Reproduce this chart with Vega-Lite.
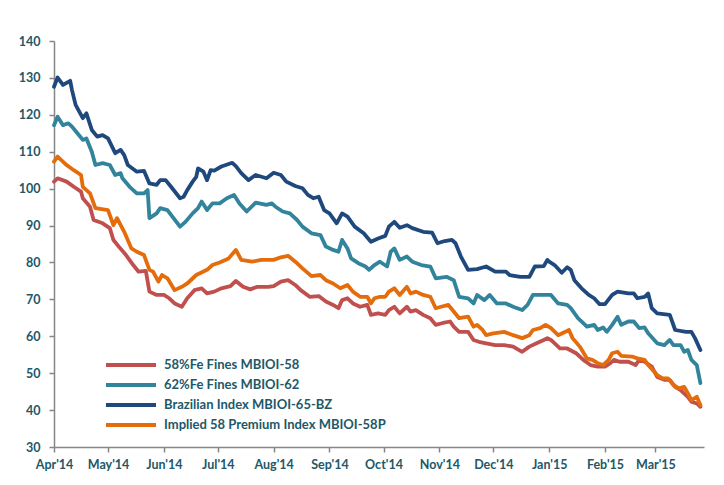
{
  "$schema": "https://vega.github.io/schema/vega-lite/v6.json",
  "width": 650,
  "height": 406,
  "autosize": "none",
  "padding": {"left": 54, "top": 41, "right": 20, "bottom": 38},
  "background": "white",
  "config": {"view": {"stroke": null}, "font": "Lato"},
  "data": {"values": [
{"s":"58","d":"2014-04-01","v":101.9},{"s":"58","d":"2014-04-03","v":102.8},{"s":"58","d":"2014-04-08","v":101.9},{"s":"58","d":"2014-04-12","v":100.5},{"s":"58","d":"2014-04-16","v":99.2},{"s":"58","d":"2014-04-17","v":97.4},{"s":"58","d":"2014-04-21","v":95.1},{"s":"58","d":"2014-04-23","v":91.5},{"s":"58","d":"2014-04-28","v":90.6},{"s":"58","d":"2014-05-02","v":89.3},{"s":"58","d":"2014-05-04","v":86.1},{"s":"58","d":"2014-05-07","v":84.3},{"s":"58","d":"2014-05-11","v":82.0},{"s":"58","d":"2014-05-15","v":79.3},{"s":"58","d":"2014-05-18","v":77.5},{"s":"58","d":"2014-05-22","v":77.7},{"s":"58","d":"2014-05-24","v":72.1},{"s":"58","d":"2014-05-28","v":71.2},{"s":"58","d":"2014-06-01","v":71.2},{"s":"58","d":"2014-06-04","v":70.3},{"s":"58","d":"2014-06-07","v":68.9},{"s":"58","d":"2014-06-11","v":68.0},{"s":"58","d":"2014-06-14","v":70.3},{"s":"58","d":"2014-06-18","v":72.5},{"s":"58","d":"2014-06-22","v":73.0},{"s":"58","d":"2014-06-25","v":71.6},{"s":"58","d":"2014-06-29","v":72.1},{"s":"58","d":"2014-07-03","v":73.0},{"s":"58","d":"2014-07-08","v":73.6},{"s":"58","d":"2014-07-11","v":75.0},{"s":"58","d":"2014-07-15","v":73.4},{"s":"58","d":"2014-07-19","v":72.7},{"s":"58","d":"2014-07-23","v":73.4},{"s":"58","d":"2014-07-29","v":73.4},{"s":"58","d":"2014-08-01","v":73.6},{"s":"58","d":"2014-08-05","v":74.8},{"s":"58","d":"2014-08-09","v":75.2},{"s":"58","d":"2014-08-13","v":73.9},{"s":"58","d":"2014-08-16","v":72.5},{"s":"58","d":"2014-08-21","v":70.7},{"s":"58","d":"2014-08-26","v":70.9},{"s":"58","d":"2014-08-30","v":69.4},{"s":"58","d":"2014-09-03","v":68.5},{"s":"58","d":"2014-09-06","v":67.6},{"s":"58","d":"2014-09-08","v":69.8},{"s":"58","d":"2014-09-11","v":70.3},{"s":"58","d":"2014-09-14","v":68.9},{"s":"58","d":"2014-09-18","v":68.0},{"s":"58","d":"2014-09-22","v":68.5},{"s":"58","d":"2014-09-24","v":65.8},{"s":"58","d":"2014-09-28","v":66.2},{"s":"58","d":"2014-10-02","v":65.8},{"s":"58","d":"2014-10-04","v":67.1},{"s":"58","d":"2014-10-07","v":68.0},{"s":"58","d":"2014-10-10","v":66.2},{"s":"58","d":"2014-10-14","v":68.0},{"s":"58","d":"2014-10-16","v":66.7},{"s":"58","d":"2014-10-19","v":67.1},{"s":"58","d":"2014-10-23","v":65.8},{"s":"58","d":"2014-10-27","v":64.9},{"s":"58","d":"2014-10-30","v":63.1},{"s":"58","d":"2014-11-03","v":63.6},{"s":"58","d":"2014-11-07","v":64.0},{"s":"58","d":"2014-11-09","v":62.6},{"s":"58","d":"2014-11-12","v":61.2},{"s":"58","d":"2014-11-17","v":61.2},{"s":"58","d":"2014-11-20","v":59.0},{"s":"58","d":"2014-11-23","v":58.5},{"s":"58","d":"2014-11-27","v":58.1},{"s":"58","d":"2014-12-02","v":57.6},{"s":"58","d":"2014-12-07","v":57.6},{"s":"58","d":"2014-12-12","v":57.2},{"s":"58","d":"2014-12-17","v":55.8},{"s":"58","d":"2014-12-21","v":57.2},{"s":"58","d":"2014-12-25","v":58.1},{"s":"58","d":"2014-12-29","v":59.0},{"s":"58","d":"2014-12-31","v":59.5},{"s":"58","d":"2015-01-02","v":59.0},{"s":"58","d":"2015-01-07","v":56.7},{"s":"58","d":"2015-01-11","v":56.7},{"s":"58","d":"2015-01-16","v":55.4},{"s":"58","d":"2015-01-20","v":53.6},{"s":"58","d":"2015-01-24","v":52.2},{"s":"58","d":"2015-01-28","v":51.8},{"s":"58","d":"2015-02-01","v":51.8},{"s":"58","d":"2015-02-04","v":52.7},{"s":"58","d":"2015-02-06","v":53.6},{"s":"58","d":"2015-02-09","v":53.1},{"s":"58","d":"2015-02-14","v":53.1},{"s":"58","d":"2015-02-18","v":52.2},{"s":"58","d":"2015-02-20","v":53.6},{"s":"58","d":"2015-02-23","v":53.1},{"s":"58","d":"2015-02-27","v":51.8},{"s":"58","d":"2015-03-02","v":49.0},{"s":"58","d":"2015-03-06","v":48.2},{"s":"58","d":"2015-03-09","v":48.2},{"s":"58","d":"2015-03-12","v":46.3},{"s":"58","d":"2015-03-15","v":45.4},{"s":"58","d":"2015-03-19","v":43.6},{"s":"58","d":"2015-03-21","v":42.3},{"s":"58","d":"2015-03-24","v":41.8},{"s":"58","d":"2015-03-26","v":40.9},
{"s":"62","d":"2014-04-01","v":117.2},{"s":"62","d":"2014-04-03","v":119.5},{"s":"62","d":"2014-04-06","v":117.2},{"s":"62","d":"2014-04-09","v":117.7},{"s":"62","d":"2014-04-11","v":116.8},{"s":"62","d":"2014-04-14","v":115.0},{"s":"62","d":"2014-04-17","v":113.2},{"s":"62","d":"2014-04-19","v":113.6},{"s":"62","d":"2014-04-22","v":110.0},{"s":"62","d":"2014-04-24","v":106.4},{"s":"62","d":"2014-04-28","v":106.9},{"s":"62","d":"2014-05-02","v":106.4},{"s":"62","d":"2014-05-05","v":103.7},{"s":"62","d":"2014-05-08","v":104.2},{"s":"62","d":"2014-05-09","v":102.8},{"s":"62","d":"2014-05-13","v":100.5},{"s":"62","d":"2014-05-17","v":98.7},{"s":"62","d":"2014-05-21","v":98.7},{"s":"62","d":"2014-05-23","v":99.6},{"s":"62","d":"2014-05-24","v":92.0},{"s":"62","d":"2014-05-28","v":93.3},{"s":"62","d":"2014-05-30","v":94.7},{"s":"62","d":"2014-06-03","v":94.2},{"s":"62","d":"2014-06-05","v":92.9},{"s":"62","d":"2014-06-10","v":89.7},{"s":"62","d":"2014-06-13","v":91.0},{"s":"62","d":"2014-06-17","v":93.3},{"s":"62","d":"2014-06-20","v":94.7},{"s":"62","d":"2014-06-22","v":96.5},{"s":"62","d":"2014-06-25","v":94.2},{"s":"62","d":"2014-06-28","v":96.0},{"s":"62","d":"2014-07-02","v":96.0},{"s":"62","d":"2014-07-06","v":97.4},{"s":"62","d":"2014-07-10","v":98.3},{"s":"62","d":"2014-07-13","v":96.0},{"s":"62","d":"2014-07-17","v":93.8},{"s":"62","d":"2014-07-22","v":96.2},{"s":"62","d":"2014-07-28","v":95.6},{"s":"62","d":"2014-07-31","v":96.0},{"s":"62","d":"2014-08-02","v":95.1},{"s":"62","d":"2014-08-06","v":93.8},{"s":"62","d":"2014-08-10","v":93.3},{"s":"62","d":"2014-08-14","v":91.5},{"s":"62","d":"2014-08-17","v":89.7},{"s":"62","d":"2014-08-22","v":87.9},{"s":"62","d":"2014-08-27","v":87.4},{"s":"62","d":"2014-08-30","v":84.3},{"s":"62","d":"2014-09-03","v":83.4},{"s":"62","d":"2014-09-06","v":82.9},{"s":"62","d":"2014-09-08","v":86.1},{"s":"62","d":"2014-09-11","v":83.8},{"s":"62","d":"2014-09-13","v":81.1},{"s":"62","d":"2014-09-17","v":79.8},{"s":"62","d":"2014-09-21","v":78.9},{"s":"62","d":"2014-09-23","v":78.0},{"s":"62","d":"2014-09-26","v":79.3},{"s":"62","d":"2014-09-29","v":80.2},{"s":"62","d":"2014-10-03","v":78.9},{"s":"62","d":"2014-10-05","v":82.9},{"s":"62","d":"2014-10-07","v":83.8},{"s":"62","d":"2014-10-10","v":80.7},{"s":"62","d":"2014-10-14","v":81.6},{"s":"62","d":"2014-10-17","v":80.2},{"s":"62","d":"2014-10-22","v":79.3},{"s":"62","d":"2014-10-27","v":78.9},{"s":"62","d":"2014-10-30","v":75.7},{"s":"62","d":"2014-11-05","v":76.1},{"s":"62","d":"2014-11-09","v":75.2},{"s":"62","d":"2014-11-12","v":70.7},{"s":"62","d":"2014-11-17","v":70.3},{"s":"62","d":"2014-11-20","v":68.9},{"s":"62","d":"2014-11-22","v":71.2},{"s":"62","d":"2014-11-26","v":69.8},{"s":"62","d":"2014-11-29","v":71.2},{"s":"62","d":"2014-12-03","v":68.9},{"s":"62","d":"2014-12-08","v":68.9},{"s":"62","d":"2014-12-12","v":68.0},{"s":"62","d":"2014-12-17","v":67.1},{"s":"62","d":"2014-12-20","v":68.5},{"s":"62","d":"2014-12-23","v":71.2},{"s":"62","d":"2014-12-30","v":71.2},{"s":"62","d":"2015-01-02","v":71.2},{"s":"62","d":"2015-01-06","v":68.9},{"s":"62","d":"2015-01-11","v":68.5},{"s":"62","d":"2015-01-13","v":67.6},{"s":"62","d":"2015-01-17","v":64.9},{"s":"62","d":"2015-01-22","v":62.6},{"s":"62","d":"2015-01-26","v":63.1},{"s":"62","d":"2015-01-28","v":61.7},{"s":"62","d":"2015-01-31","v":62.4},{"s":"62","d":"2015-02-02","v":61.2},{"s":"62","d":"2015-02-05","v":63.1},{"s":"62","d":"2015-02-08","v":65.3},{"s":"62","d":"2015-02-10","v":63.1},{"s":"62","d":"2015-02-14","v":64.0},{"s":"62","d":"2015-02-17","v":64.0},{"s":"62","d":"2015-02-20","v":62.2},{"s":"62","d":"2015-02-23","v":62.4},{"s":"62","d":"2015-02-25","v":60.8},{"s":"62","d":"2015-03-02","v":58.1},{"s":"62","d":"2015-03-06","v":57.6},{"s":"62","d":"2015-03-09","v":59.0},{"s":"62","d":"2015-03-11","v":57.6},{"s":"62","d":"2015-03-15","v":57.6},{"s":"62","d":"2015-03-17","v":55.8},{"s":"62","d":"2015-03-19","v":56.3},{"s":"62","d":"2015-03-21","v":53.6},{"s":"62","d":"2015-03-24","v":52.2},{"s":"62","d":"2015-03-26","v":47.3},
{"s":"65BZ","d":"2014-04-01","v":127.6},{"s":"65BZ","d":"2014-04-03","v":130.1},{"s":"65BZ","d":"2014-04-06","v":128.1},{"s":"65BZ","d":"2014-04-10","v":129.2},{"s":"65BZ","d":"2014-04-11","v":126.7},{"s":"65BZ","d":"2014-04-13","v":122.7},{"s":"65BZ","d":"2014-04-17","v":119.1},{"s":"65BZ","d":"2014-04-19","v":120.4},{"s":"65BZ","d":"2014-04-22","v":115.9},{"s":"65BZ","d":"2014-04-25","v":114.1},{"s":"65BZ","d":"2014-04-28","v":114.5},{"s":"65BZ","d":"2014-05-01","v":113.6},{"s":"65BZ","d":"2014-05-05","v":109.6},{"s":"65BZ","d":"2014-05-08","v":110.5},{"s":"65BZ","d":"2014-05-10","v":109.1},{"s":"65BZ","d":"2014-05-12","v":106.4},{"s":"65BZ","d":"2014-05-17","v":104.6},{"s":"65BZ","d":"2014-05-21","v":104.8},{"s":"65BZ","d":"2014-05-24","v":101.4},{"s":"65BZ","d":"2014-05-28","v":101.0},{"s":"65BZ","d":"2014-05-30","v":102.3},{"s":"65BZ","d":"2014-06-02","v":102.3},{"s":"65BZ","d":"2014-06-05","v":100.5},{"s":"65BZ","d":"2014-06-10","v":97.4},{"s":"65BZ","d":"2014-06-12","v":97.8},{"s":"65BZ","d":"2014-06-14","v":99.6},{"s":"65BZ","d":"2014-06-17","v":101.9},{"s":"65BZ","d":"2014-06-19","v":103.2},{"s":"65BZ","d":"2014-06-20","v":105.5},{"s":"65BZ","d":"2014-06-23","v":104.6},{"s":"65BZ","d":"2014-06-25","v":102.3},{"s":"65BZ","d":"2014-06-27","v":105.0},{"s":"65BZ","d":"2014-06-29","v":104.9},{"s":"65BZ","d":"2014-07-03","v":106.0},{"s":"65BZ","d":"2014-07-09","v":107.0},{"s":"65BZ","d":"2014-07-11","v":106.1},{"s":"65BZ","d":"2014-07-14","v":104.2},{"s":"65BZ","d":"2014-07-18","v":102.3},{"s":"65BZ","d":"2014-07-22","v":103.7},{"s":"65BZ","d":"2014-07-28","v":102.8},{"s":"65BZ","d":"2014-08-01","v":104.3},{"s":"65BZ","d":"2014-08-05","v":103.7},{"s":"65BZ","d":"2014-08-08","v":101.9},{"s":"65BZ","d":"2014-08-13","v":100.7},{"s":"65BZ","d":"2014-08-17","v":100.1},{"s":"65BZ","d":"2014-08-20","v":98.3},{"s":"65BZ","d":"2014-08-23","v":97.4},{"s":"65BZ","d":"2014-08-26","v":97.8},{"s":"65BZ","d":"2014-08-29","v":94.2},{"s":"65BZ","d":"2014-09-01","v":93.3},{"s":"65BZ","d":"2014-09-05","v":90.6},{"s":"65BZ","d":"2014-09-08","v":93.3},{"s":"65BZ","d":"2014-09-11","v":92.4},{"s":"65BZ","d":"2014-09-15","v":89.7},{"s":"65BZ","d":"2014-09-20","v":87.9},{"s":"65BZ","d":"2014-09-24","v":85.6},{"s":"65BZ","d":"2014-09-28","v":86.5},{"s":"65BZ","d":"2014-10-02","v":87.2},{"s":"65BZ","d":"2014-10-04","v":89.7},{"s":"65BZ","d":"2014-10-07","v":91.0},{"s":"65BZ","d":"2014-10-10","v":89.4},{"s":"65BZ","d":"2014-10-14","v":90.1},{"s":"65BZ","d":"2014-10-17","v":89.3},{"s":"65BZ","d":"2014-10-23","v":88.3},{"s":"65BZ","d":"2014-10-28","v":88.1},{"s":"65BZ","d":"2014-10-31","v":85.2},{"s":"65BZ","d":"2014-11-04","v":85.8},{"s":"65BZ","d":"2014-11-08","v":86.1},{"s":"65BZ","d":"2014-11-10","v":85.2},{"s":"65BZ","d":"2014-11-13","v":81.6},{"s":"65BZ","d":"2014-11-17","v":78.0},{"s":"65BZ","d":"2014-11-22","v":78.2},{"s":"65BZ","d":"2014-11-27","v":78.9},{"s":"65BZ","d":"2014-12-02","v":77.5},{"s":"65BZ","d":"2014-12-08","v":77.5},{"s":"65BZ","d":"2014-12-10","v":76.6},{"s":"65BZ","d":"2014-12-16","v":76.1},{"s":"65BZ","d":"2014-12-21","v":76.1},{"s":"65BZ","d":"2014-12-24","v":78.9},{"s":"65BZ","d":"2014-12-29","v":79.0},{"s":"65BZ","d":"2014-12-31","v":80.7},{"s":"65BZ","d":"2015-01-01","v":80.2},{"s":"65BZ","d":"2015-01-04","v":79.3},{"s":"65BZ","d":"2015-01-08","v":77.2},{"s":"65BZ","d":"2015-01-11","v":78.7},{"s":"65BZ","d":"2015-01-13","v":78.0},{"s":"65BZ","d":"2015-01-15","v":75.2},{"s":"65BZ","d":"2015-01-19","v":73.0},{"s":"65BZ","d":"2015-01-23","v":71.2},{"s":"65BZ","d":"2015-01-26","v":70.3},{"s":"65BZ","d":"2015-01-29","v":68.7},{"s":"65BZ","d":"2015-02-01","v":68.7},{"s":"65BZ","d":"2015-02-05","v":71.2},{"s":"65BZ","d":"2015-02-08","v":72.1},{"s":"65BZ","d":"2015-02-14","v":71.6},{"s":"65BZ","d":"2015-02-17","v":71.6},{"s":"65BZ","d":"2015-02-19","v":70.3},{"s":"65BZ","d":"2015-02-23","v":70.7},{"s":"65BZ","d":"2015-02-25","v":71.6},{"s":"65BZ","d":"2015-02-27","v":67.6},{"s":"65BZ","d":"2015-03-02","v":66.2},{"s":"65BZ","d":"2015-03-09","v":65.8},{"s":"65BZ","d":"2015-03-12","v":61.7},{"s":"65BZ","d":"2015-03-18","v":61.2},{"s":"65BZ","d":"2015-03-21","v":61.2},{"s":"65BZ","d":"2015-03-23","v":59.5},{"s":"65BZ","d":"2015-03-26","v":56.3},
{"s":"58P","d":"2014-04-01","v":107.3},{"s":"58P","d":"2014-04-03","v":108.7},{"s":"58P","d":"2014-04-08","v":106.4},{"s":"58P","d":"2014-04-12","v":105.0},{"s":"58P","d":"2014-04-16","v":103.7},{"s":"58P","d":"2014-04-17","v":100.5},{"s":"58P","d":"2014-04-21","v":98.7},{"s":"58P","d":"2014-04-24","v":94.7},{"s":"58P","d":"2014-05-01","v":94.2},{"s":"58P","d":"2014-05-04","v":90.1},{"s":"58P","d":"2014-05-06","v":92.0},{"s":"58P","d":"2014-05-10","v":88.3},{"s":"58P","d":"2014-05-14","v":83.8},{"s":"58P","d":"2014-05-17","v":82.9},{"s":"58P","d":"2014-05-21","v":82.0},{"s":"58P","d":"2014-05-24","v":78.0},{"s":"58P","d":"2014-05-26","v":77.5},{"s":"58P","d":"2014-05-29","v":74.8},{"s":"58P","d":"2014-05-31","v":76.6},{"s":"58P","d":"2014-06-03","v":75.7},{"s":"58P","d":"2014-06-07","v":72.5},{"s":"58P","d":"2014-06-11","v":73.4},{"s":"58P","d":"2014-06-14","v":74.3},{"s":"58P","d":"2014-06-19","v":76.6},{"s":"58P","d":"2014-06-25","v":78.0},{"s":"58P","d":"2014-06-28","v":79.3},{"s":"58P","d":"2014-07-02","v":80.0},{"s":"58P","d":"2014-07-07","v":81.1},{"s":"58P","d":"2014-07-11","v":83.4},{"s":"58P","d":"2014-07-14","v":80.7},{"s":"58P","d":"2014-07-20","v":80.2},{"s":"58P","d":"2014-07-25","v":80.7},{"s":"58P","d":"2014-08-01","v":80.7},{"s":"58P","d":"2014-08-05","v":81.4},{"s":"58P","d":"2014-08-09","v":81.8},{"s":"58P","d":"2014-08-13","v":80.2},{"s":"58P","d":"2014-08-17","v":78.4},{"s":"58P","d":"2014-08-22","v":76.3},{"s":"58P","d":"2014-08-27","v":76.6},{"s":"58P","d":"2014-08-30","v":75.2},{"s":"58P","d":"2014-09-03","v":74.3},{"s":"58P","d":"2014-09-07","v":73.0},{"s":"58P","d":"2014-09-11","v":73.9},{"s":"58P","d":"2014-09-14","v":72.1},{"s":"58P","d":"2014-09-18","v":70.7},{"s":"58P","d":"2014-09-22","v":70.7},{"s":"58P","d":"2014-09-24","v":68.9},{"s":"58P","d":"2014-09-26","v":70.3},{"s":"58P","d":"2014-09-29","v":70.7},{"s":"58P","d":"2014-10-02","v":70.7},{"s":"58P","d":"2014-10-04","v":72.1},{"s":"58P","d":"2014-10-07","v":73.0},{"s":"58P","d":"2014-10-10","v":71.2},{"s":"58P","d":"2014-10-14","v":73.4},{"s":"58P","d":"2014-10-16","v":71.6},{"s":"58P","d":"2014-10-19","v":72.1},{"s":"58P","d":"2014-10-23","v":71.2},{"s":"58P","d":"2014-10-27","v":70.7},{"s":"58P","d":"2014-10-30","v":67.6},{"s":"58P","d":"2014-11-02","v":68.0},{"s":"58P","d":"2014-11-06","v":68.5},{"s":"58P","d":"2014-11-09","v":66.7},{"s":"58P","d":"2014-11-12","v":64.9},{"s":"58P","d":"2014-11-17","v":65.3},{"s":"58P","d":"2014-11-20","v":62.6},{"s":"58P","d":"2014-11-22","v":63.1},{"s":"58P","d":"2014-11-25","v":61.7},{"s":"58P","d":"2014-11-27","v":60.3},{"s":"58P","d":"2014-12-01","v":60.8},{"s":"58P","d":"2014-12-07","v":61.2},{"s":"58P","d":"2014-12-12","v":60.3},{"s":"58P","d":"2014-12-17","v":59.5},{"s":"58P","d":"2014-12-21","v":60.3},{"s":"58P","d":"2014-12-23","v":61.7},{"s":"58P","d":"2014-12-27","v":62.2},{"s":"58P","d":"2014-12-30","v":63.1},{"s":"58P","d":"2015-01-02","v":62.2},{"s":"58P","d":"2015-01-06","v":60.3},{"s":"58P","d":"2015-01-10","v":61.2},{"s":"58P","d":"2015-01-12","v":61.7},{"s":"58P","d":"2015-01-14","v":59.5},{"s":"58P","d":"2015-01-18","v":57.2},{"s":"58P","d":"2015-01-22","v":54.0},{"s":"58P","d":"2015-01-25","v":53.6},{"s":"58P","d":"2015-01-28","v":52.7},{"s":"58P","d":"2015-01-31","v":52.2},{"s":"58P","d":"2015-02-03","v":53.6},{"s":"58P","d":"2015-02-05","v":55.4},{"s":"58P","d":"2015-02-08","v":55.8},{"s":"58P","d":"2015-02-10","v":54.7},{"s":"58P","d":"2015-02-16","v":54.5},{"s":"58P","d":"2015-02-19","v":54.0},{"s":"58P","d":"2015-02-23","v":53.6},{"s":"58P","d":"2015-02-25","v":52.2},{"s":"58P","d":"2015-03-02","v":49.5},{"s":"58P","d":"2015-03-05","v":48.6},{"s":"58P","d":"2015-03-08","v":48.6},{"s":"58P","d":"2015-03-11","v":46.8},{"s":"58P","d":"2015-03-14","v":45.9},{"s":"58P","d":"2015-03-17","v":46.3},{"s":"58P","d":"2015-03-19","v":44.6},{"s":"58P","d":"2015-03-21","v":42.7},{"s":"58P","d":"2015-03-24","v":43.6},{"s":"58P","d":"2015-03-26","v":41.4}
  ]},
  "mark": {"type": "line", "strokeWidth": 3.8, "strokeJoin": "round", "strokeCap": "round"},
  "encoding": {
    "x": {
      "field": "d", "type": "temporal", "title": null,
      "scale": {"domain": [{"year": 2014, "month": 4, "date": 1}, {"year": 2015, "month": 3, "date": 28}]},
      "axis": {
        "format": "%b'%y", "tickCount": {"interval": "month", "step": 1},
        "grid": false, "domainColor": "#868686", "domainWidth": 1.5, "tickColor": "#868686", "tickWidth": 1.5, "tickSize": 5,
        "labelFont": "Lato", "labelFontWeight": "bold", "labelFontSize": 12.5, "labelColor": "#215868",
        "labelPadding": 6, "labelAlign": "center", "labelFlush": false, "labelOverlap": false
      }
    },
    "y": {
      "field": "v", "type": "quantitative", "title": null,
      "scale": {"domain": [30, 140], "nice": false, "zero": false},
      "axis": {
        "values": [30, 40, 50, 60, 70, 80, 90, 100, 110, 120, 130, 140],
        "grid": false, "domainColor": "#868686", "domainWidth": 1.5, "tickColor": "#868686", "tickWidth": 1.5, "tickSize": 5,
        "labelFont": "Lato", "labelFontWeight": "bold", "labelFontSize": 12.5, "labelColor": "#215868",
        "labelPadding": 9
      }
    },
    "color": {
      "field": "s", "type": "nominal",
      "scale": {"domain": ["58", "62", "65BZ", "58P"], "range": ["#C0504D", "#31849B", "#1F497D", "#E46C0A"]},
      "legend": {
        "title": null, "orient": "none", "legendX": 70, "legendY": 317, "padding": 0,
        "symbolType": "M-5,0H5", "symbolSize": 100, "symbolStrokeWidth": 4, "symbolFillColor": "transparent",
        "labelFont": "Lato", "labelFontWeight": "bold", "labelFontSize": 13, "labelColor": "#215868",
        "labelOffset": 26, "rowPadding": 4, "labelLimit": 400,
        "labelExpr": "datum.label == '58' ? '58%Fe Fines MBIOI-58' : datum.label == '62' ? '62%Fe Fines MBIOI-62' : datum.label == '65BZ' ? 'Brazilian Index MBIOI-65-BZ' : 'Implied 58 Premium Index MBIOI-58P'"
      }
    }
  }
}
